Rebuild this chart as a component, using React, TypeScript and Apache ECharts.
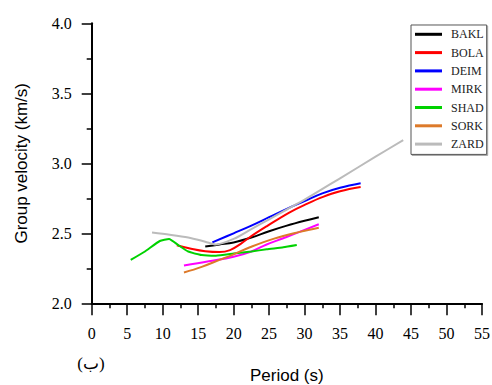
import React, { useEffect, useRef } from "react";
import * as echarts from "echarts";

const seriesNames = ["BAKL", "BOLA", "DEIM", "MIRK", "SHAD", "SORK", "ZARD"];
const seriesColors = ["#000000", "#ff0000", "#0000ff", "#ff00ff", "#00d200", "#dd7a2a", "#bbbbbb"];

const bakl = [[16, 2.405], [18, 2.42], [20, 2.435], [22.5, 2.47], [25, 2.515], [27.5, 2.555], [30, 2.59], [32, 2.615]];
const bola = [[12, 2.415], [14, 2.39], [16, 2.372], [18, 2.366], [19.5, 2.38], [21, 2.425], [22.5, 2.48], [24.65, 2.55], [27.9, 2.65], [30.3, 2.71], [32.6, 2.76], [35, 2.8], [37.9, 2.83]];
const deim = [[17, 2.435], [20, 2.5], [22.5, 2.555], [25, 2.615], [27.5, 2.675], [30, 2.73], [32.5, 2.785], [35, 2.825], [37.9, 2.857]];
const mirk = [[13, 2.27], [16.5, 2.3], [20, 2.333], [22.5, 2.37], [24.65, 2.42], [27, 2.465], [29.3, 2.51], [32, 2.565]];
const shad = [[5.5, 2.31], [7.5, 2.37], [9.6, 2.445], [10.9, 2.46], [12.2, 2.416], [13.6, 2.37], [15.5, 2.345], [17.5, 2.34], [20, 2.355], [22.5, 2.37], [24.65, 2.386], [27, 2.4], [28.9, 2.416]];
const sork = [[13, 2.22], [15.5, 2.26], [18, 2.31], [20, 2.35], [22.3, 2.4], [25.6, 2.46], [29.3, 2.51], [32, 2.54]];
const zard = [[8.5, 2.505], [11, 2.49], [13.6, 2.47], [16, 2.44], [17.5, 2.42], [20, 2.46], [22.5, 2.53], [25, 2.6], [27.5, 2.67], [30, 2.74], [35, 2.893], [40, 3.047], [43.9, 3.166]];

const seriesData = [bakl, bola, deim, mirk, shad, sork, zard];
const seriesSmooth = [0.4, 0.4, 0.4, 0.4, 0.15, 0.4, 0.3];

const xTicks = { min: 0, max: 55, interval: 5 };
const yTicks = { min: 2.0, max: 4.0, interval: 0.5 };

export default function App() {
  const ref = useRef<HTMLDivElement>(null);
  useEffect(() => {
    if (!ref.current) return;
    const chart = echarts.init(ref.current, null, { renderer: "svg" });
    const serif = "'Liberation Serif', 'Times New Roman', serif";
    const sans = "'Liberation Sans', Arial, sans-serif";
    chart.setOption({
      animation: false,
      backgroundColor: "#ffffff",
      grid: { left: 91.7, right: 10, top: 23.3, bottom: 81.7, containLabel: false, outerBoundsMode: "none" },
      legend: {
        orient: "vertical",
        left: 411,
        top: 25,
        data: seriesNames,
        icon: "rect",
        itemWidth: 27,
        itemHeight: 3,
        itemGap: 6.3,
        padding: [3.3, 3, 4.3, 4],
        borderColor: "#555555",
        borderWidth: 1,
        backgroundColor: "#ffffff",
        shadowColor: "rgba(0,0,0,0.35)",
        shadowOffsetX: 1,
        shadowOffsetY: 1,
        shadowBlur: 1,
        textStyle: { fontFamily: serif, fontSize: 12, color: "#222", padding: [0, 0, 0, 4] },
      },
      xAxis: {
        type: "value",
        min: xTicks.min,
        max: xTicks.max,
        interval: xTicks.interval,
        name: "Period (s)",
        nameLocation: "middle",
        nameGap: 64,
        nameTextStyle: { fontFamily: sans, fontSize: 17, color: "#000" },
        axisLine: { show: true, onZero: false, lineStyle: { color: "#000", width: 2 } },
        axisTick: { show: true, length: 12, lineStyle: { color: "#000", width: 1.5 } },
        minorTick: { show: true, splitNumber: 2, length: 5, lineStyle: { color: "#000", width: 1.5 } },
        axisLabel: { fontFamily: serif, fontSize: 16, color: "#000", margin: 22 },
        splitLine: { show: false },
      },
      yAxis: {
        type: "value",
        min: yTicks.min,
        max: yTicks.max,
        interval: yTicks.interval,
        name: "Group velocity (km/s)",
        nameLocation: "middle",
        nameGap: 62,
        nameTextStyle: { fontFamily: sans, fontSize: 17, color: "#000" },
        axisLine: { show: true, onZero: false, lineStyle: { color: "#000", width: 2 } },
        axisTick: { show: true, length: 10, lineStyle: { color: "#000", width: 1.5 } },
        minorTick: { show: true, splitNumber: 2, length: 5, lineStyle: { color: "#000", width: 1.5 } },
        axisLabel: { fontFamily: serif, fontSize: 16, color: "#000", margin: 20, formatter: (v: number) => v.toFixed(1) },
        splitLine: { show: false },
      },
      graphic: [
        {
          type: "text",
          x: 91,
          y: 363,
          style: { text: "(ب)", font: "17px " + serif, fill: "#000", textAlign: "center", textVerticalAlign: "middle" },
        },
      ],
      series: seriesNames.map((name, i) => ({
        name,
        type: "line",
        data: seriesData[i],
        smooth: seriesSmooth[i],
        symbol: "none",
        color: seriesColors[i],
        lineStyle: { color: seriesColors[i], width: 2 },
      })),
    });
    return () => chart.dispose();
  }, []);
  return <div ref={ref} style={{ position: "fixed", left: 0, top: 0, width: 492, height: 385 }} />;
}
